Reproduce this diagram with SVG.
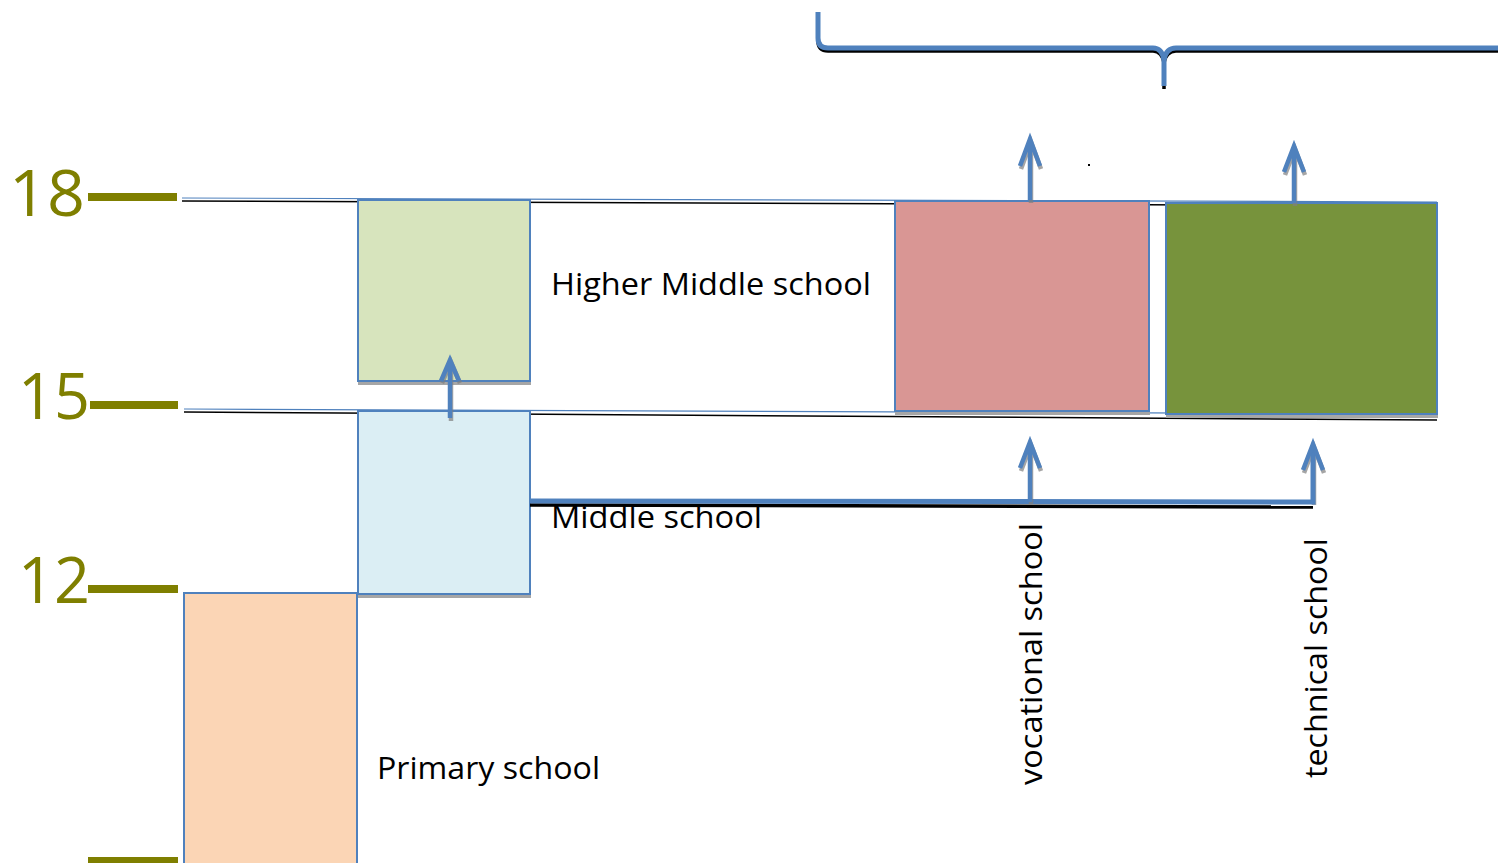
<svg xmlns="http://www.w3.org/2000/svg" width="1498" height="863" viewBox="0 0 1498 863">
<style>
.age{font-family:"Open Sans","Liberation Sans",sans-serif;font-size:64px;fill:#7f7f00}
.tick{fill:#7f7f00}
.lbl{font-family:"Open Sans","Liberation Sans",sans-serif;font-size:31px;fill:#000}
.box{stroke:#4f81bd;stroke-width:2}
.shadow{fill:#a6a6a6}
.arr{fill:none;stroke:#4f81bd;stroke-width:4.5;stroke-linecap:butt;stroke-linejoin:miter}
.arrs{fill:none;stroke:#7f7f7f;stroke-width:4.5;opacity:0.7}
.blue{fill:none;stroke:#4f81bd;stroke-width:5}
.blk{fill:none;stroke:#000;stroke-width:3.5}
</style>
<rect width="1498" height="863" fill="#fff"/>
<g id="axis">
<text class="age" x="9" y="216" textLength="76" lengthAdjust="spacingAndGlyphs">18</text>
<rect class="tick" x="88" y="193" width="89" height="8"/>
<text class="age" x="18" y="419" textLength="72" lengthAdjust="spacingAndGlyphs">15</text>
<rect class="tick" x="90" y="401" width="88" height="8"/>
<text class="age" x="18" y="603" textLength="72" lengthAdjust="spacingAndGlyphs">12</text>
<rect class="tick" x="88" y="585" width="90" height="8"/>
<rect class="tick" x="88" y="857" width="90" height="6"/>
</g>
<g id="levels">
<line x1="182" y1="198" x2="1437" y2="202" stroke="#4f81bd" stroke-width="1.2"/>
<line x1="182" y1="201" x2="1437" y2="206" stroke="#000" stroke-width="1.5"/>
<line x1="184" y1="409" x2="1437" y2="414" stroke="#4f81bd" stroke-width="1.2"/>
<line x1="184" y1="412" x2="1437" y2="420" stroke="#000" stroke-width="1.5"/>
</g>
<g id="primary">
<rect class="box" x="184" y="593" width="173" height="272" fill="#fbd5b5"/>
<text class="lbl" x="377" y="779" textLength="223" lengthAdjust="spacingAndGlyphs">Primary school</text>
</g>
<g id="middle">
<rect class="shadow" x="358" y="414" width="173" height="184"/>
<rect class="box" x="358" y="411" width="172" height="183" fill="#dbeef4"/>
<text class="lbl" x="551" y="528" textLength="211" lengthAdjust="spacingAndGlyphs">Middle school</text>
</g>
<g id="higher-middle">
<rect class="shadow" x="358" y="203" width="173" height="182"/>
<rect class="box" x="358" y="200" width="172" height="181" fill="#d7e4bd"/>
<text class="lbl" x="551" y="295" textLength="320" lengthAdjust="spacingAndGlyphs">Higher Middle school</text>
</g>
<g id="vocational">
<rect class="shadow" x="895" y="204" width="255" height="211"/>
<rect class="box" x="895" y="201" width="254" height="210" fill="#d99694" stroke-width="3"/>
<text class="lbl" transform="translate(1042,785) rotate(-90)" textLength="262" lengthAdjust="spacingAndGlyphs">vocational school</text>
</g>
<g id="technical">
<rect class="shadow" x="1166" y="206" width="272" height="212"/>
<rect class="box" x="1166" y="203" width="271" height="211" fill="#77933c" stroke-width="3"/>
<text class="lbl" transform="translate(1327,778) rotate(-90)" textLength="240" lengthAdjust="spacingAndGlyphs">technical school</text>
</g>
<g id="connectors">
<path class="blk" d="M818,15 V41 Q818,51 828,51 H1153 Q1162,51 1164,63 V89 M1164,63 Q1166,51 1176,51 H1498"/>
<path class="blue" d="M818,12 V38 Q818,48 828,48 H1153 Q1162,48 1164,60 V86 M1164,60 Q1166,48 1176,48 H1498"/>
<path d="M530,505 L1313,507" fill="none" stroke="#000" stroke-width="3.5"/>
<path class="arrs" d="M1314,505 V449 M1304,473 L1314,447 L1324,473"/>
<path d="M530,501 L1313,502 V446" fill="none" stroke="#4f81bd" stroke-width="5" stroke-linejoin="miter"/>
<path class="arr" d="M1303,470 L1313,444 L1323,470"/>
<path class="arrs" d="M451,421 V364 M442,383 L451,362 L460,383"/>
<path class="arr" d="M450,418 V361 M441,381 L450,360 L459,381"/>
<path class="arrs" d="M1031,203 V143 M1021,169 L1031,142 L1041,169"/>
<path class="arr" d="M1030,200 V141 M1020,166 L1030,139 L1040,166"/>
<path class="arrs" d="M1295,206 V150 M1285,175 L1295,149 L1305,175"/>
<path class="arr" d="M1294,203 V148 M1284,172 L1294,146 L1304,172"/>
<path class="arrs" d="M1031,504 V447 M1021,471 L1031,445 L1041,471"/>
<path class="arr" d="M1030,502 V444 M1020,468 L1030,442 L1040,468"/>
</g>
<rect x="1088" y="164" width="2" height="2" fill="#000"/>
</svg>
